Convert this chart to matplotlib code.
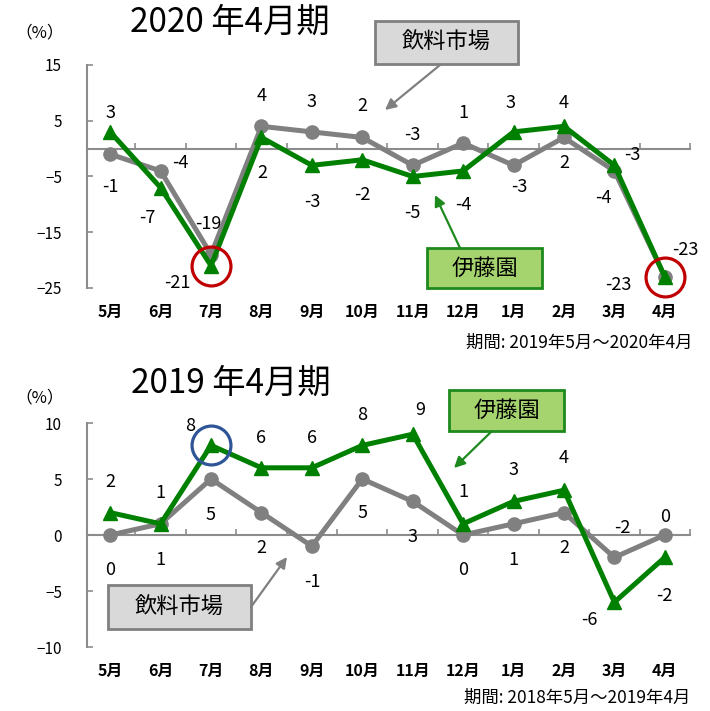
import matplotlib
matplotlib.use("Agg")
import matplotlib.pyplot as plt
from matplotlib.patches import Rectangle, FancyArrowPatch

plt.rcParams['font.family'] = ['Noto Sans CJK JP', 'DejaVu Sans']

# data
months = ['5月', '6月', '7月', '8月', '9月', '10月', '11月', '12月', '1月', '2月', '3月', '4月']

itoen_2020 = [3, -7, -21, 2, -3, -2, -5, -4, 3, 4, -3, -23]
market_2020 = [-1, -4, -19, 4, 3, 2, -3, 1, -3, 2, -4, -23]
itoen_2019 = [2, 1, 8, 6, 6, 8, 9, 1, 3, 4, -6, -2]
market_2019 = [0, 1, 5, 2, -1, 5, 3, 0, 1, 2, -2, 0]

titles = ['2020 年4月期', '2019 年4月期']
periods = ['期間: 2019年5月～2020年4月', '期間: 2018年5月～2019年4月']
yticks_2020 = [-25, -15, -5, 5, 15]
yticks_2019 = [-10, -5, 0, 5, 10]

# label offsets in pixels (x right, y up)
off_itoen_2020 = [(0, 19), (-13, -30), (-34, -17), (1, -36), (0, -37), (0, -35),
                  (0, -37), (0, -34), (-3, 29), (0, 23), (18, 10), (21, 27)]
off_market_2020 = [(0, -33), (20, 8), (-3, 31), (0, 30), (0, 30), (0, 31),
                   (0, 30), (0, 30), (6, -22), (0, -26), (-11, -27), (-46, -8)]
off_itoen_2019 = [(0, 31), (0, 31), (-21, 19), (0, 30), (0, 30), (0, 30),
                  (8, 24), (0, 32), (0, 31), (0, 32), (-25, -18), (0, -39)]
off_market_2019 = [(0, -35), (0, -36), (0, -36), (0, -35), (0, -36), (0, -34),
                   (0, -36), (0, -35), (0, -36), (0, -35), (8, 29), (0, 18)]

W, H = 710, 711
GREEN = '#008000'
GREY = '#808080'
AXIS = '#8c8c8c'

fig = plt.figure(figsize=(W / 100, H / 100), dpi=100)
ax1 = fig.add_axes([87 / W, 1 - 288 / H, 603 / W, 223 / H])
ax2 = fig.add_axes([87 / W, 1 - 647 / H, 603 / W, 224 / H])


def setup(ax, ylim, yticks):
    x = range(len(months))
    ax.set_xlim(-0.46, 11.5)
    ax.set_ylim(*ylim)
    ax.set_yticks(yticks)
    for s in ['top', 'right']:
        ax.spines[s].set_visible(False)
    ax.spines['bottom'].set_position(('data', 0))
    ax.spines['bottom'].set_color(AXIS)
    ax.spines['left'].set_color(AXIS)
    ax.spines['bottom'].set_linewidth(1.5)
    ax.spines['left'].set_linewidth(1.5)
    ax.set_xticks([i + 0.5 for i in x])
    ax.set_xticklabels([])
    ax.tick_params(axis='x', direction='in', length=4, width=1.2, color=AXIS)
    ax.tick_params(axis='y', direction='in', length=4, width=1.2, color=AXIS,
                   labelsize=11, pad=18)
    for i, m in enumerate(months):
        ax.annotate(m, xy=(i, 0), xycoords=('data', 'axes fraction'),
                    xytext=(0, -24), textcoords='offset pixels',
                    ha='center', va='center', fontsize=11.5, fontweight='bold')


def draw(ax, itoen, market, off_i, off_m):
    x = list(range(len(months)))
    ax.plot(x, market, color=GREY, lw=3.6, marker='o', ms=9.5, zorder=3, clip_on=False)
    ax.plot(x, itoen, color=GREEN, lw=3.6, marker='^', ms=10, zorder=4, clip_on=False)
    for i in x:
        ax.annotate(str(itoen[i]), xy=(i, itoen[i]), xytext=off_i[i],
                    textcoords='offset pixels', ha='center', va='center', fontsize=13)
        ax.annotate(str(market[i]), xy=(i, market[i]), xytext=off_m[i],
                    textcoords='offset pixels', ha='center', va='center', fontsize=13)


def fpx(x, y):
    return x / W, 1 - y / H


def callout(box, text, fc, ec, tail, tip):
    x0, y0, x1, y1 = box
    fig.add_artist(Rectangle(fpx(x0, y1), (x1 - x0) / W, (y1 - y0) / H,
                             transform=fig.transFigure, fc=fc, ec=ec, lw=2, zorder=5))
    cx, cy = fpx((x0 + x1) / 2, (y0 + y1) / 2)
    fig.text(cx, cy, text, ha='center', va='center', fontsize=16, zorder=6)
    fig.add_artist(FancyArrowPatch(fpx(*tail), fpx(*tip), transform=fig.transFigure,
                                   arrowstyle='-|>', mutation_scale=16, color=ec,
                                   lw=1.6, shrinkA=0, shrinkB=0, zorder=5))


setup(ax1, (-25, 15), yticks_2020)
setup(ax2, (-10, 10), yticks_2019)
draw(ax1, itoen_2020, market_2020, off_itoen_2020, off_market_2020)
draw(ax2, itoen_2019, market_2019, off_itoen_2019, off_market_2019)

# highlight circles
ax1.plot([2, 11], [itoen_2020[2], itoen_2020[11]], 'o', ms=28, mfc='none',
         mec='#c00000', mew=2.3, zorder=6, clip_on=False)
ax2.plot([2], [itoen_2019[2]], 'o', ms=28, mfc='none', mec='#2f5597', mew=2.3,
         zorder=6, clip_on=False)

# titles, units, periods
fig.text(*fpx(230, 22), titles[0], ha='center', va='center', fontsize=24)
fig.text(*fpx(231, 383), titles[1], ha='center', va='center', fontsize=24)
fig.text(*fpx(40, 33), '（%）', ha='center', va='center', fontsize=12)
fig.text(*fpx(40, 398), '（%）', ha='center', va='center', fontsize=12)
fig.text(*fpx(692, 343), periods[0], ha='right', va='center', fontsize=12.5)
fig.text(*fpx(690, 698), periods[1], ha='right', va='center', fontsize=12.5)

# callouts
callout((375, 21, 518, 64), '飲料市場', '#d9d9d9', GREY, (440, 65), (385, 110))
callout((427, 248, 542, 288), '伊藤園', '#a5d46e', '#1e8a1e', (460, 248), (435, 195))
callout((449, 390, 564, 431), '伊藤園', '#a5d46e', '#1e8a1e', (492, 431), (454, 468))
callout((108, 585, 251, 629), '飲料市場', '#d9d9d9', GREY, (251, 607), (287, 557))

fig.savefig('out.png', dpi=100)
